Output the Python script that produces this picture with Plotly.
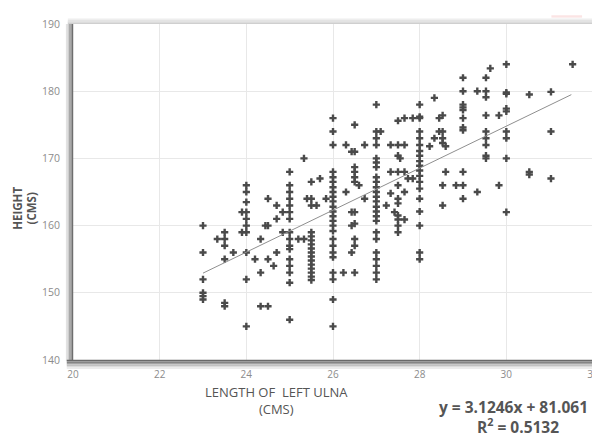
import plotly.graph_objects as go

# ---- data ----
cols = {
    23.0: [160, 156, 152, 150, 149.5, 149],
    23.33: [158],
    23.5: [159, 158, 157, 155, 148.5, 148],
    23.7: [156],
    23.9: [162, 159],
    24.0: [166, 165, 163.5, 162, 161, 160, 159, 156, 152, 145],
    24.2: [155],
    24.33: [158, 153, 148],
    24.44: [160],
    24.5: [164, 160, 155, 148],
    24.63: [154],
    24.7: [163, 161, 156],
    24.84: [162, 159],
    25.0: [168, 166, 165, 164, 163, 162, 161, 159, 158, 157, 156.5, 155, 154, 153, 151.5, 146],
    25.2: [158],
    25.33: [170, 158],
    25.4: [164],
    25.5: [166.5, 164, 163, 159, 158.4, 157.8, 157.2, 156.6, 156, 155.4, 154.8, 154.2, 153.6, 153, 152.4, 151.9],
    25.62: [163],
    25.7: [167],
    25.84: [164],
    26.0: [176, 174, 172, 168, 167.2, 166.5, 165.7, 165, 164.3, 163.6, 162.8, 162.1, 161.4, 160.7, 160,
           159.2, 158, 157, 156, 155.3, 153, 152, 149, 145],
    26.24: [153],
    26.3: [172, 165],
    26.43: [171, 162, 160, 156],
    26.5: [175, 171, 168.7, 168, 167.2, 166.5, 162, 160.3, 158, 157, 153],
    26.6: [166],
    26.73: [172, 164],
    27.0: [178, 174, 173, 172, 170, 169.4, 168.7, 167.2, 166.5, 165.7, 165, 164.3, 163.6, 162.8, 162.1,
           161.4, 160.7, 159, 158, 156, 155, 154, 153, 152],
    27.1: [174],
    27.23: [163],
    27.33: [172, 168, 164.8],
    27.42: [162],
    27.5: [175.6, 172, 170.4, 168, 166, 164, 163.3, 161.5, 160.9, 160, 159],
    27.55: [170],
    27.65: [176, 172, 168, 165, 160.9],
    27.73: [167],
    27.84: [176, 167],
    28.0: [178, 176.2, 176, 174, 173, 172, 171.1, 170.4, 169.6, 168.9, 168.2, 167.4, 166.5, 165.5, 164,
           162.1, 160, 156, 155],
    28.23: [171.8],
    28.34: [179, 173],
    28.45: [176, 174],
    28.53: [176.4, 174, 173, 172.3, 166, 163],
    28.6: [171.8, 168],
    28.84: [166],
    29.0: [182, 180, 178, 177.6, 177.2, 176, 174.6, 174.2, 168, 166, 164],
    29.33: [180, 165],
    29.53: [182, 180, 179.1, 176.4, 174, 173, 172, 170.4, 170],
    29.63: [183.4],
    29.83: [176.4, 166],
    30.0: [184, 179.8, 179.6, 177.4, 177, 174, 173, 170, 162],
    30.53: [179.5, 168, 167.6],
    31.03: [179.9, 174, 167],
    31.53: [184],
}
ulna_length = [x for x, ys in cols.items() for _ in ys]
height = [y for ys in cols.values() for y in ys]

trend_slope = 3.1246
trend_intercept = 81.061
trend_r2 = 0.5132
trend_x = [23.0, 31.5]
trend_y = [trend_slope * v + trend_intercept for v in trend_x]

x_ticks = [20, 22, 24, 26, 28, 30, 32]
y_ticks = [140, 150, 160, 170, 180, 190]

fig = go.Figure()
fig.add_trace(go.Scatter(
    x=ulna_length, y=height, mode="markers",
    marker=dict(symbol="cross", size=6, color="#4a4a4a", line=dict(width=0)),
    showlegend=False, hoverinfo="x+y"))
fig.add_trace(go.Scatter(
    x=trend_x, y=trend_y, mode="lines",
    line=dict(color="#8f8f8f", width=1), showlegend=False, hoverinfo="skip"))

# frame shadows
shapes = []
for i, (w, c) in enumerate([(1.5, "#6e6e6e"), (1.5, "#8a8a8a"), (1.5, "#a8a8a8"), (1.5, "#c8c8c8"), (1.5, "#e2e2e2")]):
    off = i * 0.0028
    shapes.append(dict(type="line", xref="paper", yref="paper", x0=-off - 0.001, x1=-off - 0.001,
                       y0=-0.003, y1=1.0, line=dict(color=c, width=w)))
for i, c in enumerate(["#6a6a6a", "#858585", "#a3a3a3", "#c2c2c2", "#dcdcdc", "#ececec"]):
    off = i * 0.0045
    shapes.append(dict(type="line", xref="paper", yref="paper", x0=-0.012, x1=1.0,
                       y0=-off - 0.002, y1=-off - 0.002, line=dict(color=c, width=1.6)))
for i, c in enumerate(["#cfcfcf", "#d9d9d9", "#e4e4e4", "#eeeeee"]):
    off = i * 0.004
    shapes.append(dict(type="line", xref="paper", yref="paper", x0=-0.01, x1=1.0,
                       y0=1.0 + off + 0.002, y1=1.0 + off + 0.002, line=dict(color=c, width=1.5)))
shapes.append(dict(type="line", xref="paper", yref="paper", x0=1.0, x1=1.0, y0=0, y1=1.0,
                   line=dict(color="#c8c8c8", width=1.5)))
shapes.append(dict(type="rect", xref="paper", yref="paper", x0=0.92, x1=0.979, y0=1.019, y1=1.026,
                   fillcolor="#fbe4e4", line=dict(width=0)))

# the page body adds an 8px margin, so margins compensate for it
fig.update_layout(
    width=600, height=436,
    margin=dict(l=65, r=10, t=9, b=84),
    paper_bgcolor="white", plot_bgcolor="white",
    font=dict(family="Open Sans, Liberation Sans, sans-serif", color="#595959"),
    shapes=shapes,
    xaxis=dict(range=[20, 32], tickvals=x_ticks, ticktext=[str(t) for t in x_ticks],
               showgrid=True, gridcolor="#e8e8e8", gridwidth=1, zeroline=False,
               showline=False, ticks="", tickfont=dict(size=10, color="#8c8c8c"), ticklabelstandoff=7),
    yaxis=dict(range=[140, 190], tickvals=y_ticks, ticktext=[str(t) for t in y_ticks],
               showgrid=True, gridcolor="#e8e8e8", gridwidth=1, zeroline=False,
               showline=False, ticks="", tickfont=dict(size=10.5, color="#8c8c8c"), ticklabelstandoff=12),
    annotations=[
        dict(text="<b>HEIGHT</b><br><b>(CMS)</b>", xref="paper", yref="paper", x=-0.093, y=0.452,
             xanchor="center", yanchor="middle",
             textangle=-90, showarrow=False, font=dict(size=11.5, color="#555555"), align="center"),
        dict(text="LENGTH OF  LEFT ULNA<br>(CMS)", xref="paper", yref="paper", x=0.392, y=-0.12,
             xanchor="center", yanchor="middle",
             showarrow=False, font=dict(size=13, color="#555555"), align="center"),
        dict(text="<b>y = %.4fx + %.3f</b>" % (trend_slope, trend_intercept),
             xref="paper", yref="paper", x=0.847, y=-0.141, xanchor="center", yanchor="middle",
             showarrow=False, font=dict(size=15.5, color="#555555")),
        dict(text="<b>R<sup>2</sup> = %.4f</b>" % trend_r2,
             xref="paper", yref="paper", x=0.855, y=-0.196, xanchor="center", yanchor="middle",
             showarrow=False, font=dict(size=15.5, color="#555555")),
    ],
)
fig.write_html("out.html")
